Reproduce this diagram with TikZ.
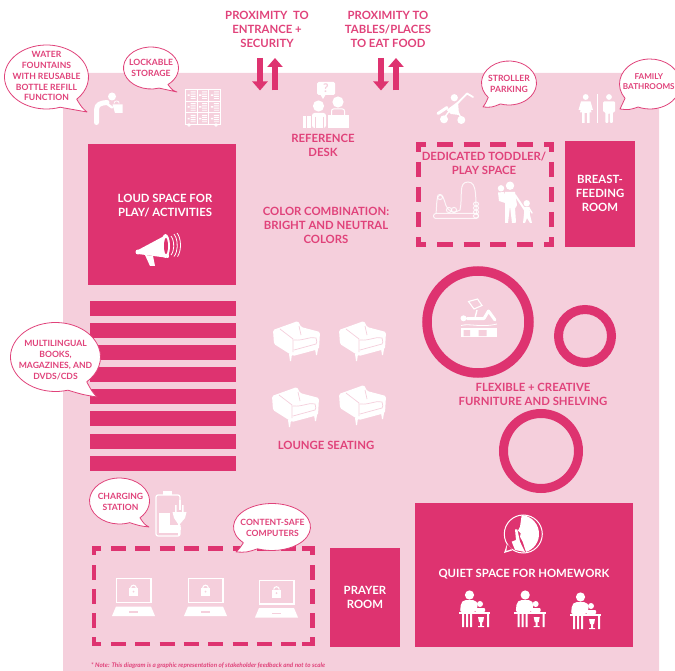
\documentclass[tikz,border=0pt]{standalone}
\usepackage{fontspec}
\setmainfont{Lato}
\usetikzlibrary{arrows.meta}
\definecolor{bgpink}{HTML}{F5CFDC}
\definecolor{hot}{HTML}{DE3370}
\definecolor{hottext}{HTML}{E0427A}
\tikzset{
  x=1pt,y=-1pt,
  lbl/.style={text=hottext,align=center,inner sep=0pt,yshift=-0.8pt,font=\fontsize{11.35}{14}\selectfont\bfseries},
  wlbl/.style={lbl,text=white},
  blbl/.style={lbl,yshift=-0.4pt,font=\fontsize{8.6}{10.8}\selectfont\bfseries},
  block/.style={fill=hot,draw=none},
  dashseg/.style={draw=hot,line width=4.6pt},
  ring/.style={draw=hot,fill=none},
  pair/.style={draw=hot,line width=5.5pt,-{Triangle[length=9pt,width=15pt]}},
  bub/.style={fill=white,draw=hottext,line width=0.8pt,line join=round},
}
% cx cy rx ry a1 a2 tipx tipy
\newcommand\bubblepath[8]{%
  \path[bub] ({#1+#3*cos(#5)},{#2+#4*sin(#5)})
    arc[start angle=#5,end angle=#6,x radius=#3,y radius=#4]
    .. controls ({0.5*(#1+#3*cos(#6))+0.5*#7},{0.5*(#2+#4*sin(#6))+0.5*#8+2}) .. (#7,#8)
    .. controls ({0.5*(#1+#3*cos(#5))+0.5*#7},{0.5*(#2+#4*sin(#5))+0.5*#8+1}) .. cycle;}
\newcommand\chairicon[2]{%
  \begin{scope}[shift={(#1,#2)}]
    \fill[white,rounded corners=1.5pt] (0,9)--(25,0)--(28,6)--(47,11)--(46,28)--(20,35)--(1,23)--cycle;
    \fill[white] (16,33)--(19,33)--(18,40)--(17,40)--cycle (42,28)--(45,28)--(44,34)--(43,34)--cycle;
    \draw[bgpink,line width=.7pt] (7,8)--(20,18)--(20,31) (26,5)--(28,14)
      (21,19)..controls (30,20) and (38,15) ..(43,17)..controls (44,21) and (44,22)..(43,23)--(21,29);
  \end{scope}}
\newcommand\laptopicon[2]{%
  \begin{scope}[shift={(#1,#2)}]
    \draw[white,line width=1.4pt] (0.7,0.7) rectangle (35,24.5);
    \fill[white] (0,28.5)--(35,28.5)--(39,38)--(-4,38)--cycle;
    \fill[bgpink] (13,33)rectangle(22,34.5);
    \fill[white] (13,10)rectangle(22,18);
    \draw[white,line width=1.1pt] (14.7,10) arc[start angle=180,end angle=360,radius=2.8];
    \fill[bgpink] (17.5,13.5) circle (1);
  \end{scope}}
\newcommand\studyicon{}
\renewcommand\studyicon[2]{%
  \begin{scope}[shift={(#1,#2)},white]
    \fill (10.5,0) circle (4.6);
    \fill[rounded corners=2pt] (1,17)--(2,8)--(5,5)--(16,5)--(19,9)--(17,17)--cycle;
    \fill (21,9) circle (3);
    \fill[rounded corners=1pt] (16,17)--(16,13)--(26,13)--(26,17)--cycle;
    \fill (-0.5,17.2) rectangle (31,19);
    \fill (3,19)rectangle(5,32) (7,19)rectangle(9,32) (11,19)rectangle(13,32) (28,19)rectangle(30,32);
    \fill (19,22)--(25,22)--(24,27)--(23,27)--(23,31)--(25,31)--(25,32)--(19,32)--(19,31)--(21,31)--(21,27)--(20,27)--cycle;
  \end{scope}}
\begin{document}
\begin{tikzpicture}
\useasboundingbox (0,0) rectangle (675,671);
\fill[bgpink,rounded corners=2pt] (63,73) rectangle (659,675);
\clip (0,0) rectangle (675,671);

% top labels and arrows
\node[lbl] (ptext1) at (267,29) {PROXIMITY~ TO\\ENTRANCE +\\SECURITY};
\node[lbl] (ptext2) at (388,29) {PROXIMITY TO\\TABLES/PLACES\\TO EAT FOOD};
\coordinate (a1s) at (260,58); \coordinate (a1e) at (260,90.5);
\coordinate (a2s) at (275,90.5); \coordinate (a2e) at (275,58);
\coordinate (b1s) at (381,58); \coordinate (b1e) at (381,90.5);
\coordinate (b2s) at (396,90.5); \coordinate (b2e) at (396,58);
\draw[pair] (a1s)--(a1e); \draw[pair] (a2s)--(a2e);
\draw[pair] (b1s)--(b1e); \draw[pair] (b2s)--(b2e);

% blocks
\fill[block] (88,144) rectangle (236,285);
\fill[block] (565,141) rectangle (635,247);
\fill[block] (415,503) rectangle (633,647);
\fill[block] (330,548) rectangle (400,647);
\foreach \yy in {301,323,345,367,389,411,434,456} {\fill[block] (90,\yy) rectangle (236,\yy+15);}

% rings
\draw[ring,line width=9.5pt] (478,322) circle (51);
\draw[ring,line width=9pt] (585,336) circle (26.5);
\draw[ring,line width=9pt] (541,451) circle (37.5);

% dashed frames
\begin{scope}[line cap=butt]
\draw[dashseg] (426,144.5)--(418.3,144.5)--(418.3,152);
\draw[dashseg] (544,144.5)--(551.7,144.5)--(551.7,152);
\draw[dashseg] (426,244.7)--(418.3,244.7)--(418.3,237);
\draw[dashseg] (544,244.7)--(551.7,244.7)--(551.7,237);
\foreach \xx in {437,463.5,490,517} {\draw[dashseg] (\xx,144.5)--(\xx+16,144.5); \draw[dashseg] (\xx,244.7)--(\xx+16,244.7);}
\foreach \yy in {162,187,212} {\draw[dashseg] (418.3,\yy)--(418.3,\yy+15); \draw[dashseg] (551.7,\yy)--(551.7,\yy+15);}
\draw[dashseg] (101,548.3)--(94,548.3)--(94,555);
\draw[dashseg] (302,548.3)--(312.7,548.3)--(312.7,555);
\draw[dashseg] (101,644)--(94,644)--(94,637);
\draw[dashseg] (302,644)--(312.7,644)--(312.7,637);
\foreach \xx in {111,135.3,159.6,183.9,208.2,232.5,256.8,281} {\draw[dashseg] (\xx,548.3)--(\xx+15,548.3); \draw[dashseg] (\xx,644)--(\xx+15,644);}
\foreach \yy in {565,589,613} {\draw[dashseg] (94,\yy)--(94,\yy+14.5); \draw[dashseg] (312.7,\yy)--(312.7,\yy+14.5);}
\end{scope}

% fountain person
\fill[white] (112,96.5) circle (4);
\draw[white,line width=5pt,line cap=round,line join=round] (96.5,122.5)--(96.5,110)..controls (96.5,104) and (101,103)..(107,102.5);
\draw[white,line width=2.4pt,line cap=round] (106,103)--(112,107.5);
\fill[white] (112.5,104.5)--(122.5,104.5)--(122.5,113)--(115,113)--cycle;
\draw[white,line width=.7pt] (114,103.5) arc[start angle=180,end angle=360,radius=2.6];

% lockers
\draw[white,line width=.8pt] (185.5,89.5) rectangle (220.5,124.5);
\foreach \gx in {197.2,208.8} {\draw[white,line width=.8pt] (\gx,89.5)--(\gx,124.5);}
\foreach \gy in {101.2,112.8} {\draw[white,line width=.8pt] (185.5,\gy)--(220.5,\gy);}
\foreach \gx in {187.5,199.2,210.8} \foreach \gy in {91.5,103.2,114.8} {
  \fill[white] (\gx+3,\gy) rectangle (\gx+8,\gy+1) (\gx+3,\gy+2.2) rectangle (\gx+8,\gy+3.2) (\gx+3,\gy+4.4) rectangle (\gx+8,\gy+5.4) (\gx+3,\gy+6.6) rectangle (\gx+8,\gy+7.4) (\gx,\gy+3) rectangle (\gx+2.2,\gy+4.5);}
\draw[white,line width=.8pt] (189,125) circle (1.2) (216,125) circle (1.2);

% reference desk
\fill[white,rounded corners=1.5pt] (317,82) rectangle (335,95);
\fill[white] (320,94)--(323,99)--(326,94)--cycle;
\node[text=bgpink,inner sep=0pt,font=\fontsize{12}{12}\selectfont\bfseries] (qmark) at (326,88.5) {?};
\fill[white] (318.5,106) circle (5.6);
\fill[white,rounded corners=2.5pt] (312,128)--(312,113)--(326,113)--(326,128)--cycle;
\fill[white] (338,102) circle (5.6);
\draw[white,line width=1pt,rounded corners=2pt] (331.5,115)--(331.5,109)--(344.5,109)--(344.5,115);
\fill[white] (327.5,115.5) rectangle (349,128);
\fill[white] (303,116) rectangle (310.5,128);
\draw[bgpink,line width=.6pt] (306,116)--(306,128) (315,117)--(315,128) (323,117)--(323,128);
\node[lbl] (refdesk) at (323,145) {REFERENCE\\DESK};

% stroller
\fill[white] (444,119.3) circle (4) (461.3,120) circle (4) (454.3,97.7) circle (3.6);
\draw[white,line width=1.8pt,line cap=round,line join=round] (473,97)--(467,93.5)--(451,110);
\fill[white] (446.5,110)--(458,101.5)--(459,115)--(451,114)--cycle;
\draw[white,line width=3pt,line cap=round] (438,113.5)--(447,107.5);
\draw[white,line width=1.4pt] (444,118)--(450,110) (461,118)--(457,110);

% family
\fill[white] (585.7,97) circle (2.9) (609,97) circle (2.9);
\fill[white] (578.5,110)--(581,101.5)--(590.5,101.5)--(593,110)--(591,110)--(591.5,112.5)--(589.5,112.5)--(589.5,123)--(587,123)--(587,113)--(584.5,113)--(584.5,123)--(582,123)--(582,112.5)--(580,112.5)--(580.5,110)--cycle;
\fill[white,rounded corners=1pt] (603,112)--(603,101.5)--(615,101.5)--(615,112)--(612.8,112)--(612.8,123)--(609.8,123)--(609.8,113)--(608.4,113)--(608.4,123)--(605.4,123)--(605.4,112)--cycle;
\fill[white] (596.7,94) rectangle (598,123.5);

% loud box
\node[wlbl] (loud) at (165,205) {LOUD SPACE FOR\\PLAY/ ACTIVITIES};
\fill[white,rounded corners=1pt] (138,250)--(167,234.5)--(169,258)--(138,254)--cycle;
\fill[white] (145,255)--(153,256)--(155,266)--(150,266)--cycle;
\fill[white] (138,252) circle (2.5);
\fill[white] (165.5,246) ellipse (4.5 and 12);
\fill[hot] (166,246) ellipse (2 and 8);
\draw[white,line width=.8pt] (171,236) arc[start angle=-60,end angle=60,x radius=5.5,y radius=11];
\draw[white,line width=.8pt] (174,234) arc[start angle=-60,end angle=60,x radius=6.5,y radius=13];
\draw[white,line width=.8pt] (177,233) arc[start angle=-60,end angle=55,x radius=7,y radius=14];

% toddler
\node[lbl] (toddler) at (484,163) {DEDICATED TODDLER/\\PLAY SPACE};
\draw[white,line width=1pt,rounded corners=2.4pt,opacity=.8] (433.5,213.5) rectangle (478.5,218.5);
\draw[white,line width=1pt,opacity=.8] (436,213.5)..controls (437,205) and (436,196) ..(440,195)..controls (445,195) and (444,205)..(448,209)..controls (452,214) and (456,212)..(460,210)
 ..controls (463,196) and (458,182) ..(468,182)..controls (478,182) and (475,200)..(476.5,214);
\foreach \bx/\by in {440/197,449/210,454/210} {\draw[white,line width=1pt,opacity=.8] (\bx,\by) circle (2.6);}
\foreach \by in {204,208,212,216} {\draw[white,line width=1pt,opacity=.8] (476,\by) ellipse (2.6 and 2);}
% adult and children
\fill[white] (510,185.7) circle (4.2) (501,188.3) circle (3.2) (526.7,203.3) circle (3.2);
\fill[white] (505,192)--(515,192)--(517,205)--(516,207)--(515,208)--(516,222)--(515,223)--(512,223)--(510,206)--(508,223)--(505,223)--cycle;
\fill[white] (498,192.5)--(504,192)--(507,200)--(505,203)--(499,201)--cycle;
\draw[white,line width=2pt,line cap=round] (515,195)--(525,210);
\fill[white] (524,207)--(529.5,207)--(530,215)--(532,223)--(530,223)--(527,218)--(525,223)--(523,223)--(524,214)--cycle;
\draw[white,line width=1.4pt,line cap=round] (529,208)--(532,213);

% breast box
\node[wlbl] (breast) at (600,193) {BREAST-\\FEEDING\\ROOM};
\node[lbl] (colorc) at (326,225) {COLOR COMBINATION:\\BRIGHT AND NEUTRAL\\COLORS};

% chairs
\chairicon{273}{321}\chairicon{339}{321}\chairicon{272}{387}\chairicon{339}{385}
\node[lbl] (lounge) at (326,445) {LOUNGE SEATING};

% changing table
\fill[white] (461,328) rectangle (497,337);
\fill[bgpink] (463.5,330) rectangle (470,336) (478.5,330) rectangle (486.5,336);
\draw[white,line width=.8pt] (461,325.5)..controls (470,323) and (480,328)..(497,324);
\fill[white] (463.5,318.3) circle (3);
\draw[white,line width=3pt,line cap=round,line join=round] (467,318.5)--(484,318.5)--(488.5,311)--(495,320);
\draw[white,line width=1.4pt] (475,318)--(477,310);
\draw[white,line width=1.1pt] (468.5,301.5)--(477.5,299)--(482,305.5)--(474,309)--cycle;
\node[lbl] (flex) at (533,394) {FLEXIBLE + CREATIVE\\FURNITURE AND SHELVING};

% battery
\draw[white,line width=1.2pt,rounded corners=2pt] (156,495)rectangle(180,536);
\fill[white] (163,491) rectangle (172,494.5);
\fill[white] (159,513) rectangle (178,533);
\fill[bgpink] (170,505)rectangle(190,525);
\fill[white] (172.5,512)--(186.5,512)--(185,518)--(180,524)--(178,524)--(174,518)--cycle;
\fill[white] (175,505) rectangle (176.5,512) (182,505) rectangle (183.5,512);
\draw[white,line width=1.2pt] (179,523)--(179,536);
\draw[white,line width=1.2pt] (180,500)--(180,510) (180,527)--(180,530);

% laptops
\laptopicon{116}{578}\laptopicon{188}{578}\laptopicon{259}{579.5}

\node[wlbl] (prayer) at (365,597) {PRAYER\\ROOM};

% quiet box
\draw[white,line width=1pt] (523.3,534) circle (19);
\fill[white] (507,544)--(504,553)--(512,550.5)--cycle;
\fill[hot] (507.5,544.5) -- (506.3,550.8) -- (512,549) -- cycle;
\fill[white] (521.7,515) arc[start angle=-85,end angle=85,radius=19] -- (526,552)
 -- (522.7,541.7) -- (520,536.7) -- (520.7,533.3) -- (518,530.7) -- (520,526.7) -- cycle;
\fill[white] (515,529.3) -- (517.3,529.3) -- (520,541.7) -- (525,552) -- (515,550) -- (511.7,541.7) -- (516,540) -- cycle;
\node[wlbl] (quiet) at (524,573) {QUIET SPACE FOR HOMEWORK};
\studyicon{459}{595}\studyicon{514.7}{595}\studyicon{570}{597}

% note
\node[text=hottext,inner sep=0pt,anchor=west,font=\fontsize{6.3}{7}\selectfont\bfseries\itshape] (note) at (91,666) {* Note: This diagram is a graphic representation of stakeholder feedback and not to scale};

% bubbles
\bubblepath{46.5}{77}{42}{32}{71}{404}{87}{112}
\node[blbl] (bwater) at (46.5,75) {WATER\\FOUNTAINS\\WITH REUSABLE\\BOTTLE REFILL\\FUNCTION};
\bubblepath{151}{68}{27.5}{21}{73}{412}{177}{92}
\node[blbl] (block) at (151,67) {LOCKABLE\\STORAGE};
\bubblepath{509}{83}{27.5}{22}{139}{468}{483}{107}
\node[blbl] (bstroller) at (509,82.5) {STROLLER\\PARKING};
\bubblepath{650}{84}{30.5}{25}{145}{473}{620}{109}
\node[blbl,font=\fontsize{8.1}{10}\selectfont\bfseries] (bfam) at (648.8,80) {FAMILY\\BATHROOMS};
\bubblepath{55.5}{357}{45}{34.5}{74}{406}{97}{397}
\node[blbl] (bmulti) at (55.5,359) {MULTILINGUAL\\BOOKS,\\MAGAZINES, AND\\DVDS/CDS};
\bubblepath{119.5}{501}{30}{23}{70}{407}{149}{527}
\node[blbl] (bcharge) at (120.5,501) {CHARGING\\STATION};
\bubblepath{272}{527}{38.5}{23.5}{138}{472}{236}{552}
\node[blbl] (bcontent) at (272.5,527) {CONTENT-SAFE\\COMPUTERS};
\end{tikzpicture}
\end{document}
